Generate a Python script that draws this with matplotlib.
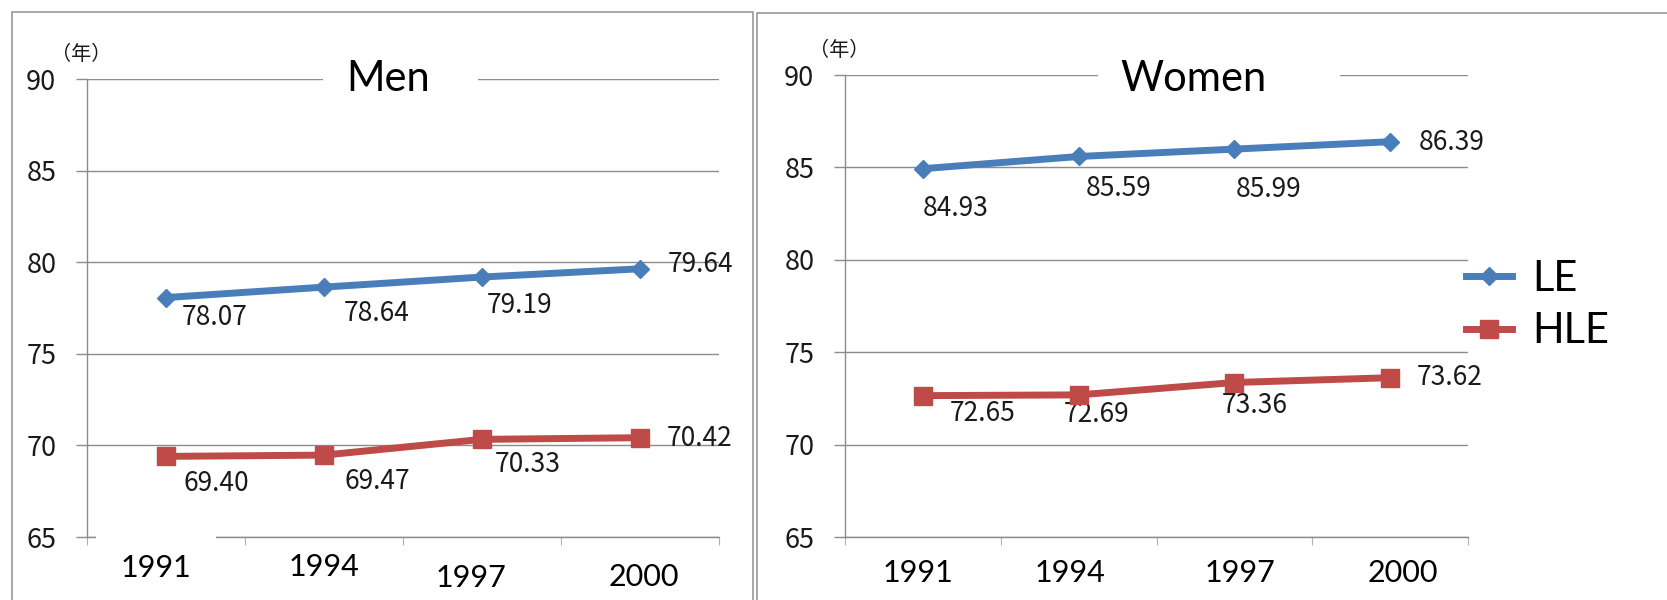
import matplotlib
matplotlib.use('Agg')
import matplotlib.pyplot as plt
from matplotlib.patches import Rectangle
from matplotlib.ticker import FixedLocator

# life expectancy (LE) and healthy life expectancy (HLE), in years
years = ['1991', '1994', '1997', '2000']
men_le = [78.07, 78.64, 79.19, 79.64]
men_hle = [69.40, 69.47, 70.33, 70.42]
women_le = [84.93, 85.59, 85.99, 86.39]
women_hle = [72.65, 72.69, 73.36, 73.62]

BLUE = '#4A7EBB'
RED = '#BE4B48'
GRID = '#8c8c8c'
CJK = ['Noto Sans CJK JP', 'DejaVu Sans']
LATIN = ['Lato', 'DejaVu Sans']

W, H = 1667, 600


def fx(px):
    return px / W


def fy(py):
    return 1 - py / H


def draw_panel(ax, le, hle, le_off, hle_off, year_off, first_box=False):
    x = list(range(len(years)))
    ax.plot(x, le, color=BLUE, lw=5, marker='D', ms=9, label='LE', zorder=4)
    ax.plot(x, hle, color=RED, lw=5, marker='s', ms=12.5, label='HLE', zorder=4)

    for series, offs in ((le, le_off), (hle, hle_off)):
        for i, v in enumerate(series):
            ax.annotate(f'{v:.2f}', (i, v), xytext=offs[i],
                        textcoords='offset pixels', ha='center', va='center',
                        fontsize=19, family=CJK, color='#1a1a1a',
                        annotation_clip=False)

    for i, yr in enumerate(years):
        box = None
        if first_box and i == 0:
            box = dict(boxstyle='square,pad=0.8', fc='white', ec='none')
        ax.annotate(yr, (i, 0), xycoords=('data', 'axes fraction'),
                    xytext=year_off[i], textcoords='offset pixels',
                    ha='center', va='center', fontsize=22, family=LATIN,
                    color='black', bbox=box, annotation_clip=False, zorder=5)

    ax.set_xlim(-0.5, len(years) - 0.5)
    ax.set_ylim(65, 90)
    ax.set_yticks(range(65, 91, 5))
    ax.set_xticks([])
    ax.xaxis.set_minor_locator(FixedLocator([i - 0.5 for i in range(len(years) + 1)]))
    ax.yaxis.grid(True, color=GRID, lw=1.0)
    ax.set_axisbelow(True)
    ax.tick_params(axis='x', which='minor', length=6, color='#b0b0b0', width=0.8)
    ax.tick_params(axis='y', length=8, color=GRID, width=1.0, labelsize=19.5,
                   pad=14, labelcolor='#1a1a1a')
    for lab in ax.get_yticklabels():
        lab.set_family(CJK)
    for side in ('top', 'right'):
        ax.spines[side].set_visible(False)
    for side in ('left', 'bottom'):
        ax.spines[side].set_color(GRID)
        ax.spines[side].set_linewidth(1.0)
    # unit marker above the top tick label
    ax.annotate('（年）', (0, 1), xycoords='axes fraction', xytext=(-6, 14),
                textcoords='offset pixels', ha='center', va='bottom',
                fontsize=14.5, family=CJK, color='#1a1a1a')


fig = plt.figure(figsize=(W / 100, H / 100), dpi=100)
fig.patch.set_facecolor('white')

# panel frames
for x0, x1, y0 in ((12, 753, 12), (757, 1700, 13)):
    fig.add_artist(Rectangle((fx(x0), fy(640)), fx(x1) - fx(x0), (640 - y0) / H,
                             transform=fig.transFigure, fill=False,
                             ec='#9a9a9a', lw=1.2))

ax1 = fig.add_axes([fx(87), fy(537), fx(719) - fx(87), (537 - 79) / H])
ax2 = fig.add_axes([fx(845), fy(537), fx(1468) - fx(845), (537 - 75) / H])

draw_panel(ax1, men_le, men_hle,
           le_off=[(49, -20), (53, -26), (38, -28), (61, 4)],
           hle_off=[(50, -27), (53, -26), (46, -25), (60, -1)],
           year_off=[(-10, -31), (0, -30), (-11, -41), (4, -40)],
           first_box=True)
draw_panel(ax2, women_le, women_hle,
           le_off=[(33, -40), (40, -32), (34, -40), (62, -1)],
           hle_off=[(60, -18), (18, -20), (20, -23), (60, 0)],
           year_off=[(-5, -36), (-9, -36), (6, -36), (13, -36)])

# panel titles over the top gridline
for (x0, x1), title, cx in (((323, 478), 'Men', 388), ((1098, 1340), 'Women', 1193)):
    fig.add_artist(Rectangle((fx(x0), fy(103)), fx(x1) - fx(x0), 70 / H,
                             transform=fig.transFigure, fc='white', ec='none'))
    fig.text(fx(cx), fy(79), title, ha='center', va='center', fontsize=30,
             family=LATIN, color='black')

handles, labels = ax2.get_legend_handles_labels()
fig.legend(handles, labels, loc='center left',
           bbox_to_anchor=(fx(1466), fy(305)), bbox_transform=fig.transFigure,
           frameon=False, prop={'family': LATIN, 'size': 30},
           handlelength=1.1, handletextpad=0.5, labelspacing=0.35,
           borderpad=0, borderaxespad=0)

fig.savefig('out.png', dpi=100)
